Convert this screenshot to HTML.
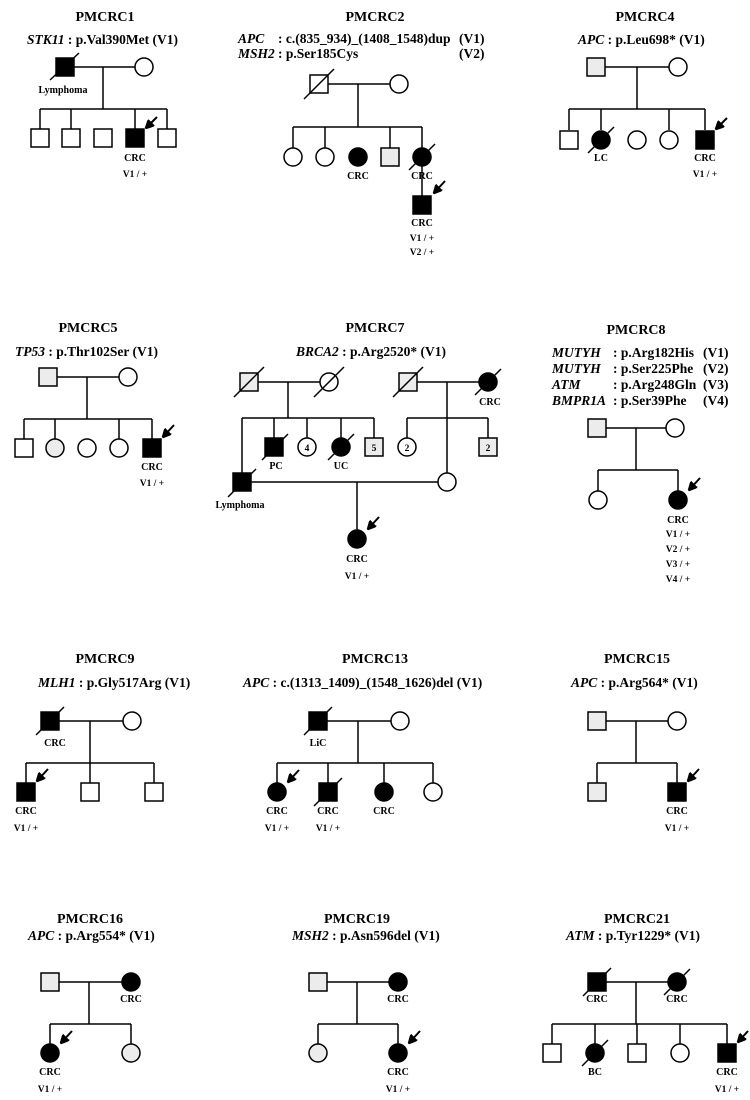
<!DOCTYPE html>
<html><head><meta charset="utf-8"><style>
body{margin:0;background:#fff}
svg{display:block;font-family:"Liberation Serif",serif;font-weight:bold}
text{fill:#000;stroke:none}
.t{font-size:14px;text-anchor:middle}
.g{font-size:13.5px}
.l{font-size:10px;text-anchor:middle}
.n{font-size:9.5px;text-anchor:middle}
line,rect,circle,path{stroke:#000;stroke-width:1.5}
.w{fill:#fff}.b{fill:#000}.y{fill:#ececec}
.ar{stroke-width:2}
</style></head><body>
<svg width="750" height="1100" viewBox="0 0 750 1100">
<defs><marker id="a" markerWidth="9" markerHeight="9" refX="8" refY="4.5" orient="auto" markerUnits="userSpaceOnUse"><path d="M0,0 L9,4.5 L0,9 z" fill="#000" stroke="none"/></marker></defs>
<g fill="none">
<!-- PMCRC1 -->
<text class="t" x="105" y="21">PMCRC1</text>
<text class="g" x="27" y="44"><tspan font-style="italic">STK11</tspan> : p.Val390Met  (V1)</text>
<line x1="65" y1="67" x2="144" y2="67"/><line x1="103" y1="67" x2="103" y2="109"/><line x1="40" y1="109" x2="167" y2="109"/>
<line x1="40" y1="109" x2="40" y2="130"/><line x1="71" y1="109" x2="71" y2="130"/><line x1="135" y1="109" x2="135" y2="130"/><line x1="167" y1="109" x2="167" y2="130"/>
<rect class="b" x="56" y="58" width="18" height="18"/><line x1="50" y1="80" x2="79" y2="53"/>
<circle class="w" cx="144" cy="67" r="9"/>
<rect class="w" x="31" y="129" width="18" height="18"/><rect class="w" x="62" y="129" width="18" height="18"/><rect class="w" x="94" y="129" width="18" height="18"/><rect class="b" x="126" y="129" width="18" height="18"/><rect class="w" x="158" y="129" width="18" height="18"/>
<line class="ar" x1="157" y1="117" x2="146" y2="128" marker-end="url(#a)"/>
<text class="l" x="63" y="93">Lymphoma</text>
<text class="l" x="135" y="161">CRC</text><text class="n" x="135" y="177">V1 / +</text>

<!-- PMCRC2 -->
<text class="t" x="375" y="21">PMCRC2</text>
<text class="g" x="238" y="43" font-style="italic">APC</text><text class="g" x="278" y="43">: c.(835_934)_(1408_1548)dup</text><text class="g" x="459" y="43">(V1)</text>
<text class="g" x="238" y="58" font-style="italic">MSH2</text><text class="g" x="278" y="58">: p.Ser185Cys</text><text class="g" x="459" y="58">(V2)</text>
<line x1="319" y1="84" x2="399" y2="84"/><line x1="358" y1="84" x2="358" y2="127"/><line x1="293" y1="127" x2="422" y2="127"/>
<line x1="293" y1="127" x2="293" y2="148"/><line x1="325" y1="127" x2="325" y2="148"/><line x1="390" y1="127" x2="390" y2="148"/><line x1="422" y1="127" x2="422" y2="196"/>
<rect class="w" x="310" y="75" width="18" height="18"/><line x1="304" y1="99" x2="334" y2="69"/>
<circle class="w" cx="399" cy="84" r="9"/>
<circle class="w" cx="293" cy="157" r="9"/><circle class="w" cx="325" cy="157" r="9"/><circle class="b" cx="358" cy="157" r="9"/><rect class="y" x="381" y="148" width="18" height="18"/><circle class="b" cx="422" cy="157" r="9"/><line x1="409" y1="170" x2="435" y2="144"/>
<rect class="b" x="413" y="196" width="18" height="18"/>
<line class="ar" x1="445" y1="181" x2="434" y2="193" marker-end="url(#a)"/>
<text class="l" x="358" y="179">CRC</text><text class="l" x="422" y="179">CRC</text>
<text class="l" x="422" y="226">CRC</text><text class="n" x="422" y="241">V1 / +</text><text class="n" x="422" y="255">V2 / +</text>

<!-- PMCRC4 -->
<text class="t" x="645" y="21">PMCRC4</text>
<text class="g" x="578" y="44"><tspan font-style="italic">APC</tspan> : p.Leu698*  (V1)</text>
<line x1="596" y1="67" x2="678" y2="67"/><line x1="637" y1="67" x2="637" y2="109"/><line x1="569" y1="109" x2="705" y2="109"/>
<line x1="569" y1="109" x2="569" y2="130"/><line x1="601" y1="109" x2="601" y2="130"/><line x1="669" y1="109" x2="669" y2="130"/><line x1="705" y1="109" x2="705" y2="130"/>
<rect class="y" x="587" y="58" width="18" height="18"/><circle class="w" cx="678" cy="67" r="9"/>
<rect class="w" x="560" y="131" width="18" height="18"/><circle class="b" cx="601" cy="140" r="9"/><line x1="588" y1="153" x2="614" y2="127"/><circle class="w" cx="637" cy="140" r="9"/><circle class="w" cx="669" cy="140" r="9"/><rect class="b" x="696" y="131" width="18" height="18"/>
<line class="ar" x1="727" y1="118" x2="716" y2="129" marker-end="url(#a)"/>
<text class="l" x="601" y="161">LC</text><text class="l" x="705" y="161">CRC</text><text class="n" x="705" y="177">V1 / +</text>

<!-- PMCRC5 -->
<text class="t" x="88" y="332">PMCRC5</text>
<text class="g" x="15" y="356"><tspan font-style="italic">TP53</tspan> : p.Thr102Ser  (V1)</text>
<line x1="48" y1="377" x2="128" y2="377"/><line x1="87" y1="377" x2="87" y2="419"/><line x1="24" y1="419" x2="152" y2="419"/>
<line x1="24" y1="419" x2="24" y2="439"/><line x1="55" y1="419" x2="55" y2="439"/><line x1="119" y1="419" x2="119" y2="439"/><line x1="152" y1="419" x2="152" y2="439"/>
<rect class="y" x="39" y="368" width="18" height="18"/><circle class="w" cx="128" cy="377" r="9"/>
<rect class="w" x="15" y="439" width="18" height="18"/><circle class="y" cx="55" cy="448" r="9"/><circle class="w" cx="87" cy="448" r="9"/><circle class="w" cx="119" cy="448" r="9"/><rect class="b" x="143" y="439" width="18" height="18"/>
<line class="ar" x1="174" y1="425" x2="163" y2="437" marker-end="url(#a)"/>
<text class="l" x="152" y="470">CRC</text><text class="n" x="152" y="486">V1 / +</text>

<!-- PMCRC7 -->
<text class="t" x="375" y="332">PMCRC7</text>
<text class="g" x="296" y="356"><tspan font-style="italic">BRCA2</tspan> : p.Arg2520*  (V1)</text>
<line x1="249" y1="382" x2="329" y2="382"/><line x1="288" y1="382" x2="288" y2="418"/><line x1="242" y1="418" x2="374" y2="418"/>
<line x1="242" y1="418" x2="242" y2="482"/><line x1="274" y1="418" x2="274" y2="438"/><line x1="307" y1="418" x2="307" y2="438"/><line x1="341" y1="418" x2="341" y2="438"/><line x1="374" y1="418" x2="374" y2="438"/>
<line x1="408" y1="382" x2="488" y2="382"/><line x1="447" y1="382" x2="447" y2="473"/><line x1="407" y1="418" x2="488" y2="418"/><line x1="407" y1="418" x2="407" y2="438"/><line x1="488" y1="418" x2="488" y2="438"/>
<line x1="242" y1="482" x2="438" y2="482"/><line x1="357" y1="482" x2="357" y2="530"/>
<rect class="y" x="240" y="373" width="18" height="18"/><line x1="234" y1="397" x2="264" y2="367"/>
<circle class="w" cx="329" cy="382" r="9"/><line x1="314" y1="397" x2="344" y2="367"/>
<rect class="y" x="399" y="373" width="18" height="18"/><line x1="393" y1="397" x2="423" y2="367"/>
<circle class="b" cx="488" cy="382" r="9"/><line x1="475" y1="395" x2="501" y2="369"/>
<rect class="b" x="265" y="438" width="18" height="18"/><line x1="262" y1="460" x2="288" y2="434"/>
<circle class="w" cx="307" cy="447" r="9"/><circle class="b" cx="341" cy="447" r="9"/><line x1="328" y1="460" x2="354" y2="434"/>
<rect class="y" x="365" y="438" width="18" height="18"/>
<circle class="w" cx="407" cy="447" r="9"/><rect class="y" x="479" y="438" width="18" height="18"/>
<rect class="b" x="233" y="473" width="18" height="18"/><line x1="228" y1="497" x2="256" y2="469"/>
<circle class="w" cx="447" cy="482" r="9"/>
<circle class="b" cx="357" cy="539" r="9"/>
<line class="ar" x1="379" y1="517" x2="368" y2="529" marker-end="url(#a)"/>
<text class="n" x="307" y="451">4</text><text class="n" x="374" y="451">5</text><text class="n" x="407" y="451">2</text><text class="n" x="488" y="451">2</text>
<text class="l" x="490" y="405">CRC</text><text class="l" x="276" y="469">PC</text><text class="l" x="341" y="469">UC</text>
<text class="l" x="240" y="508">Lymphoma</text>
<text class="l" x="357" y="562">CRC</text><text class="n" x="357" y="579">V1 / +</text>

<!-- PMCRC8 -->
<text class="t" x="636" y="334">PMCRC8</text>
<g class="g">
<text x="552" y="357" font-style="italic">MUTYH</text><text x="613" y="357">: p.Arg182His</text><text x="703" y="357">(V1)</text>
<text x="552" y="373" font-style="italic">MUTYH</text><text x="613" y="373">: p.Ser225Phe</text><text x="703" y="373">(V2)</text>
<text x="552" y="389" font-style="italic">ATM</text><text x="613" y="389">: p.Arg248Gln</text><text x="703" y="389">(V3)</text>
<text x="552" y="405" font-style="italic">BMPR1A</text><text x="613" y="405">: p.Ser39Phe</text><text x="703" y="405">(V4)</text>
</g>
<line x1="597" y1="428" x2="675" y2="428"/><line x1="636" y1="428" x2="636" y2="470"/><line x1="598" y1="470" x2="678" y2="470"/><line x1="598" y1="470" x2="598" y2="491"/><line x1="678" y1="470" x2="678" y2="491"/>
<rect class="y" x="588" y="419" width="18" height="18"/><circle class="w" cx="675" cy="428" r="9"/>
<circle class="w" cx="598" cy="500" r="9"/><circle class="b" cx="678" cy="500" r="9"/>
<line class="ar" x1="700" y1="478" x2="689" y2="490" marker-end="url(#a)"/>
<text class="l" x="678" y="523">CRC</text>
<text class="n" x="678" y="537">V1 / +</text><text class="n" x="678" y="552">V2 / +</text><text class="n" x="678" y="567">V3 / +</text><text class="n" x="678" y="582">V4 / +</text>

<!-- PMCRC9 -->
<text class="t" x="105" y="663">PMCRC9</text>
<text class="g" x="38" y="687"><tspan font-style="italic">MLH1</tspan> : p.Gly517Arg  (V1)</text>
<line x1="50" y1="721" x2="132" y2="721"/><line x1="90" y1="721" x2="90" y2="763"/><line x1="26" y1="763" x2="154" y2="763"/>
<line x1="26" y1="763" x2="26" y2="783"/><line x1="90" y1="763" x2="90" y2="783"/><line x1="154" y1="763" x2="154" y2="783"/>
<rect class="b" x="41" y="712" width="18" height="18"/><line x1="36" y1="735" x2="64" y2="707"/>
<circle class="w" cx="132" cy="721" r="9"/>
<rect class="b" x="17" y="783" width="18" height="18"/><rect class="w" x="81" y="783" width="18" height="18"/><rect class="w" x="145" y="783" width="18" height="18"/>
<line class="ar" x1="48" y1="769" x2="37" y2="781" marker-end="url(#a)"/>
<text class="l" x="55" y="746">CRC</text>
<text class="l" x="26" y="814">CRC</text><text class="n" x="26" y="831">V1 / +</text>

<!-- PMCRC13 -->
<text class="t" x="375" y="663">PMCRC13</text>
<text class="g" x="243" y="687"><tspan font-style="italic">APC</tspan> : c.(1313_1409)_(1548_1626)del  (V1)</text>
<line x1="318" y1="721" x2="400" y2="721"/><line x1="358" y1="721" x2="358" y2="763"/><line x1="277" y1="763" x2="433" y2="763"/>
<line x1="277" y1="763" x2="277" y2="783"/><line x1="328" y1="763" x2="328" y2="783"/><line x1="384" y1="763" x2="384" y2="783"/><line x1="433" y1="763" x2="433" y2="783"/>
<rect class="b" x="309" y="712" width="18" height="18"/><line x1="304" y1="735" x2="332" y2="707"/>
<circle class="w" cx="400" cy="721" r="9"/>
<circle class="b" cx="277" cy="792" r="9"/><rect class="b" x="319" y="783" width="18" height="18"/><line x1="314" y1="806" x2="342" y2="778"/><circle class="b" cx="384" cy="792" r="9"/><circle class="w" cx="433" cy="792" r="9"/>
<line class="ar" x1="299" y1="770" x2="288" y2="782" marker-end="url(#a)"/>
<text class="l" x="318" y="746">LiC</text>
<text class="l" x="277" y="814">CRC</text><text class="n" x="277" y="831">V1 / +</text>
<text class="l" x="328" y="814">CRC</text><text class="n" x="328" y="831">V1 / +</text>
<text class="l" x="384" y="814">CRC</text>

<!-- PMCRC15 -->
<text class="t" x="637" y="663">PMCRC15</text>
<text class="g" x="571" y="687"><tspan font-style="italic">APC</tspan> : p.Arg564*  (V1)</text>
<line x1="597" y1="721" x2="677" y2="721"/><line x1="636" y1="721" x2="636" y2="763"/><line x1="597" y1="763" x2="677" y2="763"/><line x1="597" y1="763" x2="597" y2="783"/><line x1="677" y1="763" x2="677" y2="783"/>
<rect class="y" x="588" y="712" width="18" height="18"/><circle class="w" cx="677" cy="721" r="9"/>
<rect class="y" x="588" y="783" width="18" height="18"/><rect class="b" x="668" y="783" width="18" height="18"/>
<line class="ar" x1="699" y1="769" x2="688" y2="781" marker-end="url(#a)"/>
<text class="l" x="677" y="814">CRC</text><text class="n" x="677" y="831">V1 / +</text>

<!-- PMCRC16 -->
<text class="t" x="90" y="923">PMCRC16</text>
<text class="g" x="28" y="940"><tspan font-style="italic">APC</tspan> : p.Arg554* (V1)</text>
<line x1="50" y1="982" x2="131" y2="982"/><line x1="89" y1="982" x2="89" y2="1024"/><line x1="50" y1="1024" x2="131" y2="1024"/><line x1="50" y1="1024" x2="50" y2="1044"/><line x1="131" y1="1024" x2="131" y2="1044"/>
<rect class="y" x="41" y="973" width="18" height="18"/><circle class="b" cx="131" cy="982" r="9"/>
<circle class="b" cx="50" cy="1053" r="9"/><circle class="y" cx="131" cy="1053" r="9"/>
<line class="ar" x1="72" y1="1031" x2="61" y2="1043" marker-end="url(#a)"/>
<text class="l" x="131" y="1002">CRC</text>
<text class="l" x="50" y="1075">CRC</text><text class="n" x="50" y="1092">V1 / +</text>

<!-- PMCRC19 -->
<text class="t" x="357" y="923">PMCRC19</text>
<text class="g" x="292" y="940"><tspan font-style="italic">MSH2</tspan> : p.Asn596del  (V1)</text>
<line x1="318" y1="982" x2="398" y2="982"/><line x1="357" y1="982" x2="357" y2="1024"/><line x1="318" y1="1024" x2="398" y2="1024"/><line x1="318" y1="1024" x2="318" y2="1044"/><line x1="398" y1="1024" x2="398" y2="1044"/>
<rect class="y" x="309" y="973" width="18" height="18"/><circle class="b" cx="398" cy="982" r="9"/>
<circle class="y" cx="318" cy="1053" r="9"/><circle class="b" cx="398" cy="1053" r="9"/>
<line class="ar" x1="420" y1="1031" x2="409" y2="1043" marker-end="url(#a)"/>
<text class="l" x="398" y="1002">CRC</text>
<text class="l" x="398" y="1075">CRC</text><text class="n" x="398" y="1092">V1 / +</text>

<!-- PMCRC21 -->
<text class="t" x="637" y="923">PMCRC21</text>
<text class="g" x="566" y="940"><tspan font-style="italic">ATM</tspan> : p.Tyr1229*  (V1)</text>
<line x1="597" y1="982" x2="677" y2="982"/><line x1="636" y1="982" x2="636" y2="1024"/><line x1="552" y1="1024" x2="727" y2="1024"/>
<line x1="552" y1="1024" x2="552" y2="1044"/><line x1="595" y1="1024" x2="595" y2="1044"/><line x1="637" y1="1024" x2="637" y2="1044"/><line x1="680" y1="1024" x2="680" y2="1044"/><line x1="727" y1="1024" x2="727" y2="1044"/>
<rect class="b" x="588" y="973" width="18" height="18"/><line x1="583" y1="996" x2="611" y2="968"/>
<circle class="b" cx="677" cy="982" r="9"/><line x1="664" y1="995" x2="690" y2="969"/>
<rect class="w" x="543" y="1044" width="18" height="18"/><circle class="b" cx="595" cy="1053" r="9"/><line x1="582" y1="1066" x2="608" y2="1040"/><rect class="w" x="628" y="1044" width="18" height="18"/><circle class="w" cx="680" cy="1053" r="9"/><rect class="b" x="718" y="1044" width="18" height="18"/>
<line class="ar" x1="748" y1="1031" x2="738" y2="1042" marker-end="url(#a)"/>
<text class="l" x="597" y="1002">CRC</text><text class="l" x="677" y="1002">CRC</text>
<text class="l" x="595" y="1075">BC</text>
<text class="l" x="727" y="1075">CRC</text><text class="n" x="727" y="1092">V1 / +</text>
</g>
</svg>
</body></html>
